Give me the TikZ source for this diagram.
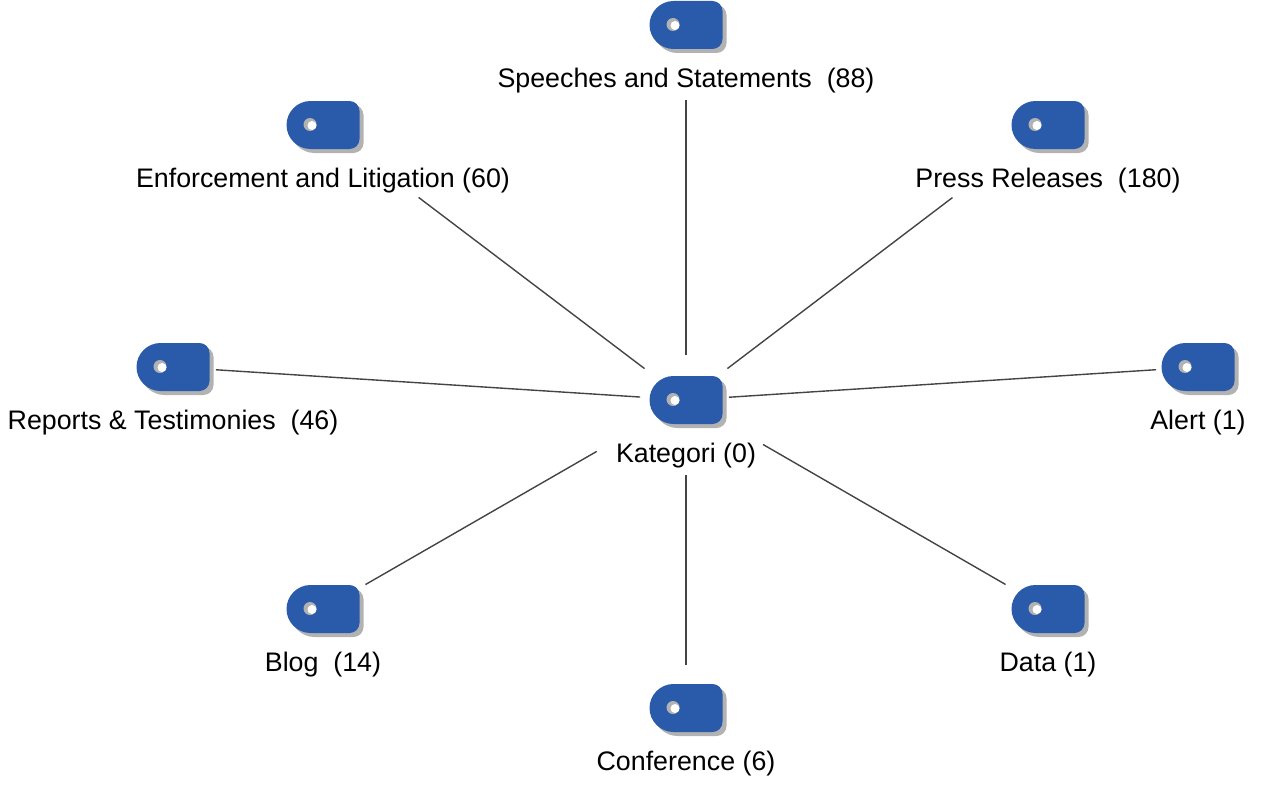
\documentclass[tikz,border=0pt]{standalone}
\usepackage{fontspec}
\setmainfont{Liberation Sans}
\usetikzlibrary{positioning}
\definecolor{tagblue}{HTML}{2A5BAB}
\definecolor{tagshade}{HTML}{B2B2B2}
\definecolor{tagline}{HTML}{444444}
\def\tagoutline{(-12.5,-24) .. controls (-25.7,-24) and (-36.5,-13.2) .. (-36.5,0) .. controls (-36.5,13.2) and (-25.7,24) .. (-12.5,24) -- (26.5,24) .. controls (32,24) and (36.5,19.5) .. (36.5,14) -- (36.5,-14) .. controls (36.5,-19.5) and (32,-24) .. (26.5,-24) -- cycle}
\tikzset{
  tagicon/.pic={
    \fill[tagshade,shift={(4,4)}] \tagoutline;
    \fill[tagblue] \tagoutline;
    \fill[tagshade] (-13,-0.5) circle (6.5pt);
    \fill[white] (-11,0.5) circle (4.5pt);
  },
  tagbox/.style={minimum width=84pt,minimum height=60pt,inner sep=0pt,outer sep=0pt},
  taglabel/.style={inner sep=0pt,outer sep=0pt,text height=19pt,text depth=6pt,font=\fontsize{26.8}{32}\selectfont},
  link/.style={draw=tagline,line width=1.4pt}
}
\begin{document}
\begin{tikzpicture}[x=1pt,y=-1pt]
  \useasboundingbox (0,0) rectangle (1265,784);
  % tags
  \node[tagbox] (kat) at (686,400) {};
  \node[tagbox] (speech) at (686,25) {};
  \node[tagbox] (enforce) at (323,125) {};
  \node[tagbox] (press) at (1048,125) {};
  \node[tagbox] (reports) at (173,367) {};
  \node[tagbox] (alert) at (1198,367) {};
  \node[tagbox] (blog) at (323,609) {};
  \node[tagbox] (data) at (1048,609) {};
  \node[tagbox] (conf) at (686,708) {};
  \foreach \tagname in {kat,speech,enforce,press,reports,alert,blog,data,conf}
    \pic at (\tagname) {tagicon};
  % labels
  \node[taglabel,below=13pt of kat] (katlabel) {Kategori (0)};
  \node[taglabel,below=13pt of speech] (speechlabel) {Speeches and Statements\ \ (88)};
  \node[taglabel,below=13pt of enforce] (enforcelabel) {Enforcement and Litigation (60)};
  \node[taglabel,below=13pt of press] (presslabel) {Press Releases\ \ (180)};
  \node[taglabel,below=13pt of reports] (reportslabel) {Reports \& Testimonies\ \ (46)};
  \node[taglabel,below=13pt of alert] (alertlabel) {Alert (1)};
  \node[taglabel,below=13pt of blog] (bloglabel) {Blog\ \ (14)};
  \node[taglabel,below=13pt of data] (datalabel) {Data (1)};
  \node[taglabel,below=13pt of conf] (conflabel) {Conference (6)};
  % links
  \draw[link,shorten <=45pt,shorten >=75pt] (kat.center) -- (speech.center);
  \draw[link,shorten <=52pt,shorten >=120pt] (kat.center) -- (enforce.center);
  \draw[link,shorten <=52pt,shorten >=120pt] (kat.center) -- (press.center);
  \draw[link,shorten <=46pt,shorten >=43pt] (kat.center) -- (reports.center);
  \draw[link,shorten <=43pt,shorten >=42pt] (kat.center) -- (alert.center);
  \draw[link,shorten <=103pt,shorten >=49pt] (kat.center) -- (blog.center);
  \draw[link,shorten <=89pt,shorten >=49pt] (kat.center) -- (data.center);
  \draw[link,shorten <=75pt,shorten >=43pt] (kat.center) -- (conf.center);
\end{tikzpicture}
\end{document}
